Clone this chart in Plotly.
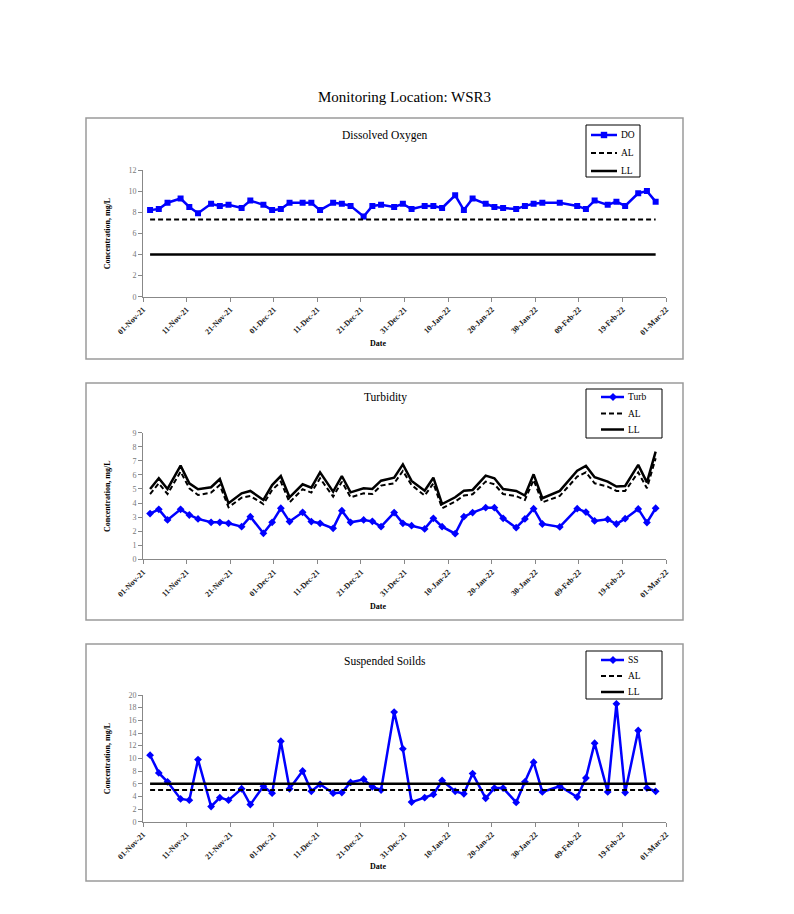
import plotly.graph_objects as go

# ---------------- data ----------------
SAMPLE_TIME = "15:00"
sample_dates = [
    "2021-11-02", "2021-11-04", "2021-11-06", "2021-11-09", "2021-11-11", "2021-11-13",
    "2021-11-16", "2021-11-18", "2021-11-20", "2021-11-23", "2021-11-25", "2021-11-28",
    "2021-11-30", "2021-12-02", "2021-12-04", "2021-12-07", "2021-12-09", "2021-12-11",
    "2021-12-14", "2021-12-16", "2021-12-18", "2021-12-21", "2021-12-23", "2021-12-25",
    "2021-12-28", "2021-12-30", "2022-01-01", "2022-01-04", "2022-01-06", "2022-01-08",
    "2022-01-11", "2022-01-13", "2022-01-15", "2022-01-18", "2022-01-20", "2022-01-22",
    "2022-01-25", "2022-01-27", "2022-01-29", "2022-01-31", "2022-02-04", "2022-02-08",
    "2022-02-10", "2022-02-12", "2022-02-15", "2022-02-17", "2022-02-19", "2022-02-22",
    "2022-02-24", "2022-02-26",
]

do_values = [8.2, 8.3, 8.9, 9.3, 8.5, 7.9, 8.8, 8.6, 8.7, 8.4, 9.1, 8.7, 8.2, 8.3, 8.9, 8.9,
             8.9, 8.2, 8.9, 8.8, 8.6, 7.6, 8.6, 8.7,
             8.5, 8.8, 8.3, 8.6, 8.6, 8.4, 9.6, 8.2, 9.3, 8.8, 8.5, 8.4, 8.3, 8.6, 8.8, 8.9,
             8.9, 8.6, 8.3, 9.1, 8.7, 9.0, 8.6, 9.8, 10.0, 9.0]
do_al = 7.3
do_ll = 4.0

turb_values = [3.25, 3.55, 2.8, 3.55, 3.15, 2.87, 2.63, 2.63, 2.56, 2.32, 3.03, 1.85, 2.63, 3.63,
               2.68, 3.34, 2.68, 2.56, 2.2, 3.46, 2.63, 2.8, 2.7, 2.32,
               3.32, 2.56, 2.39, 2.16, 2.91, 2.32, 1.82, 3.03, 3.32, 3.67, 3.67, 2.91, 2.25, 2.87,
               3.6, 2.51, 2.3, 3.6, 3.36, 2.73, 2.84, 2.51, 2.89, 3.58, 2.61, 3.63]
turb_ll = [5.0, 5.76, 5.0, 6.66, 5.4, 4.98, 5.12, 5.71, 3.98, 4.69, 4.86, 4.22, 5.28, 5.92,
           4.41, 5.33, 5.09, 6.18, 4.81, 5.92, 4.76, 5.05, 5.0, 5.59,
           5.8, 6.75, 5.57, 4.88, 5.8, 3.93, 4.41, 4.88, 4.93, 5.95, 5.76, 5.0, 4.86, 4.53,
           6.04, 4.34, 4.86, 6.3, 6.64, 5.83, 5.52, 5.17, 5.21, 6.71, 5.47, 7.65]
turb_al = [4.64, 5.4, 4.64, 6.23, 5.05, 4.57, 4.74, 5.28, 3.7, 4.38, 4.5, 3.93, 4.93, 5.52,
           4.05, 4.98, 4.74, 5.76, 4.45, 5.52, 4.41, 4.69, 4.64, 5.24,
           5.4, 6.28, 5.28, 4.53, 5.4, 3.63, 4.1, 4.53, 4.62, 5.52, 5.33, 4.64, 4.5, 4.22,
           5.64, 4.05, 4.5, 5.88, 6.18, 5.4, 5.17, 4.86, 4.86, 6.18, 5.05, 7.18]

ss_values = [10.5, 7.7, 6.3, 3.6, 3.4, 9.8, 2.4, 3.8, 3.4, 5.2, 2.7, 5.6, 4.5, 12.7, 5.2, 8.0,
             4.8, 5.9, 4.5, 4.6, 6.2, 6.7, 5.5, 5.0,
             17.3, 11.5, 3.1, 3.8, 4.3, 6.5, 4.8, 4.4, 7.6, 3.7, 5.3, 5.3, 3.05, 6.3, 9.4, 4.7,
             5.6, 3.9, 6.9, 12.4, 4.7, 18.6, 4.6, 14.4, 5.3, 4.8]
ss_al = 5.0
ss_ll = 6.0

tick_dates = ["2021-11-01", "2021-11-11", "2021-11-21", "2021-12-01", "2021-12-11",
              "2021-12-21", "2021-12-31", "2022-01-10", "2022-01-20", "2022-01-30",
              "2022-02-09", "2022-02-19", "2022-03-01"]
tick_labels = ["01-Nov-21", "11-Nov-21", "21-Nov-21", "01-Dec-21", "11-Dec-21", "21-Dec-21",
               "31-Dec-21", "10-Jan-22", "20-Jan-22", "30-Jan-22", "09-Feb-22", "19-Feb-22",
               "01-Mar-22"]

main_title = "Monitoring Location: WSR3"
chart_titles = ["Dissolved Oxygen", "Turbidity", "Suspended Soilds"]
series_names = ["DO", "Turb", "SS"]
limit_names = ["AL", "LL"]
y_ranges = [(0, 12, 2), (0, 9, 1), (0, 20, 2)]

# ---------------- layout helpers ----------------
PAGE_W, PAGE_H = 794, 914
BODY = 8  # default page margin around the figure
W, H = PAGE_W - 2 * BODY, PAGE_H - 2 * BODY
FONT = "Liberation Serif, Times New Roman, serif"
BLUE = "#0000FF"
DASH = "5px,3px"

def px(x):
    return (x - BODY) / W

def py(y):
    return 1 - (y - BODY) / H

x_dom = [px(143), px(666)]
y_doms = [(170, 296.7), (432.7, 559.3), (695, 821.7)]
boxes = [(86, 118, 683, 359), (86, 383, 683, 620), (86, 644, 683, 881)]
date_label_y = [343, 606, 866]
title_y = [135, 397, 661]

# legend geometry (pixels): box, sample line x-range, text x, row centres, marker
legend_specs = [
    dict(box=(586, 125, 640, 177), line=(591, 617), tx=619, rows=(135, 153, 171), sym="square", mx=604),
    dict(box=(586, 389, 662, 438), line=(601, 624), tx=626, rows=(397, 413.5, 429.5), sym="diamond", mx=613),
    dict(box=(586, 651, 662, 699), line=(601, 624), tx=626, rows=(660, 676, 692), sym="diamond", mx=613),
]

x_dates = [d + " " + SAMPLE_TIME for d in sample_dates]
lim_x = [x_dates[0], x_dates[-1]]

fig = go.Figure()

def add_traces(i, main_vals, marker_symbol, marker_size, al_vals, ll_vals, al_x, ll_x):
    xa = "x" if i == 0 else f"x{i+1}"
    ya = "y" if i == 0 else f"y{i+1}"
    fig.add_trace(go.Scatter(
        x=x_dates, y=main_vals, name=series_names[i], mode="lines+markers",
        line=dict(color=BLUE, width=2.5),
        marker=dict(symbol=marker_symbol, size=marker_size, color=BLUE),
        xaxis=xa, yaxis=ya))
    fig.add_trace(go.Scatter(
        x=al_x, y=al_vals, name="AL", mode="lines",
        line=dict(color="black", width=2, dash=DASH),
        xaxis=xa, yaxis=ya))
    fig.add_trace(go.Scatter(
        x=ll_x, y=ll_vals, name="LL", mode="lines",
        line=dict(color="black", width=2.5),
        xaxis=xa, yaxis=ya))

add_traces(0, do_values, "square", 6, [do_al, do_al], [do_ll, do_ll], lim_x, lim_x)
add_traces(1, turb_values, "diamond", 6, turb_al, turb_ll, x_dates, x_dates)
add_traces(2, ss_values, "diamond", 6, [ss_al, ss_al], [ss_ll, ss_ll], lim_x, lim_x)

shapes = []
annotations = []
layout_extra = {}

annotations.append(dict(text=main_title, x=px(404), y=py(97), xref="paper", yref="paper",
                        showarrow=False, font=dict(family=FONT, size=15, color="black"),
                        xanchor="center", yanchor="middle"))

def pline(x0, x1, y, color, width, dash="solid"):
    return dict(type="line", xref="paper", yref="paper", layer="above",
                x0=px(x0), x1=px(x1), y0=py(y), y1=py(y),
                line=dict(color=color, width=width, dash=dash))

for i in range(3):
    x0, y0, x1, y1 = boxes[i]
    shapes.append(dict(type="rect", xref="paper", yref="paper",
                       x0=px(x0), x1=px(x1), y0=py(y1), y1=py(y0),
                       line=dict(color="#9a9a9a", width=1.5), fillcolor="rgba(0,0,0,0)"))
    annotations.append(dict(text=chart_titles[i], x=px(385), y=py(title_y[i]),
                            xref="paper", yref="paper", showarrow=False,
                            font=dict(family=FONT, size=11.5, color="black"),
                            xanchor="center", yanchor="middle"))
    annotations.append(dict(text="<b>Date</b>", x=px(378), y=py(date_label_y[i]),
                            xref="paper", yref="paper", showarrow=False,
                            font=dict(family=FONT, size=8, color="black"),
                            xanchor="center", yanchor="middle"))
    yt, yb = y_doms[i]
    annotations.append(dict(text="<b>Concentration, mg/L</b>", x=px(107), y=py((yt + yb) / 2),
                            xref="paper", yref="paper", showarrow=False, textangle=-90,
                            font=dict(family=FONT, size=8, color="black"),
                            xanchor="center", yanchor="middle"))

    # legend box
    sp = legend_specs[i]
    bx0, by0, bx1, by1 = sp["box"]
    shapes.append(dict(type="rect", xref="paper", yref="paper", layer="above",
                       x0=px(bx0), x1=px(bx1), y0=py(by1), y1=py(by0),
                       line=dict(color="black", width=1), fillcolor="white"))
    lx0, lx1 = sp["line"]
    r0, r1, r2 = sp["rows"]
    shapes.append(pline(lx0, lx1, r0, BLUE, 2.5))
    shapes.append(pline(lx0, lx1, r1, "black", 2, DASH))
    shapes.append(pline(lx0, lx1, r2, "black", 2.5))
    mx = sp["mx"]
    if sp["sym"] == "square":
        s = 3.2
        shapes.append(dict(type="rect", xref="paper", yref="paper", layer="above",
                           x0=px(mx - s), x1=px(mx + s), y0=py(r0 + s), y1=py(r0 - s),
                           line=dict(color=BLUE, width=0), fillcolor=BLUE))
    else:
        s = 4
        path = (f"M {px(mx)},{py(r0 - s)} L {px(mx + s)},{py(r0)} "
                f"L {px(mx)},{py(r0 + s)} L {px(mx - s)},{py(r0)} Z")
        shapes.append(dict(type="path", xref="paper", yref="paper", layer="above",
                           path=path, line=dict(color=BLUE, width=0), fillcolor=BLUE))
    for name, ry in zip([series_names[i]] + limit_names, sp["rows"]):
        annotations.append(dict(text=name, x=px(sp["tx"]), y=py(ry), xref="paper", yref="paper",
                                showarrow=False, xanchor="left", yanchor="middle",
                                font=dict(family=FONT, size=9.5, color="black")))

    xk = "xaxis" if i == 0 else f"xaxis{i+1}"
    yk = "yaxis" if i == 0 else f"yaxis{i+1}"
    ya = "y" if i == 0 else f"y{i+1}"
    xa = "x" if i == 0 else f"x{i+1}"
    lo, hi, dt = y_ranges[i]
    layout_extra[xk] = dict(
        domain=x_dom, anchor=ya, type="date", automargin=False,
        range=["2021-11-01", "2022-03-01"],
        tickmode="array", tickvals=tick_dates, ticktext=tick_labels, tickangle=-45,
        ticks="outside", ticklen=4, tickcolor="#888", showline=True, linecolor="#888",
        linewidth=1, showgrid=False, zeroline=False,
        tickfont=dict(family=FONT, size=8, color="#222", weight="bold"))
    layout_extra[yk] = dict(
        domain=[py(yb), py(yt)], anchor=xa, range=[lo, hi], dtick=dt, tick0=0,
        automargin=False,
        ticks="outside", ticklen=4, tickcolor="#888", showline=True, linecolor="#888",
        linewidth=1, showgrid=False, zeroline=False,
        tickfont=dict(family=FONT, size=8, color="#777"))

fig.update_layout(
    width=W, height=H, autosize=False,
    margin=dict(l=0, r=0, t=0, b=0, pad=0, autoexpand=False),
    paper_bgcolor="white", plot_bgcolor="white",
    showlegend=False,
    shapes=shapes, annotations=annotations,
    **layout_extra)

fig.write_html("out.html")
